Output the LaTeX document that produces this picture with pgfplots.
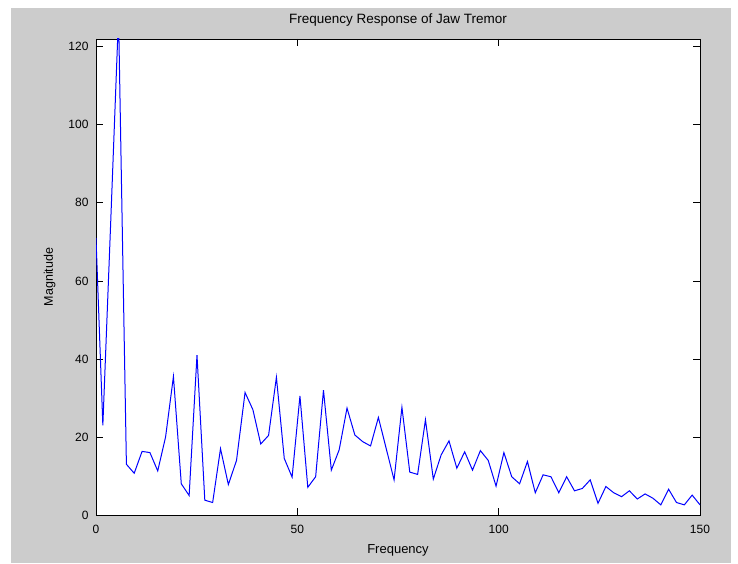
\documentclass[border=0pt]{standalone}
\usepackage{fontspec}
\setmainfont{Liberation Sans}
\usepackage{pgfplots}
\pgfplotsset{compat=1.18}
\definecolor{figgray}{RGB}{204,204,204}
\definecolor{mblue}{RGB}{0,0,255}
\begin{document}
\begin{tikzpicture}[x=1pt,y=1pt]
\fill[white] (0,0) rectangle (738,563);
\fill[figgray] (11,0) rectangle (731,555);
\begin{axis}[
  at={(96pt,48pt)}, anchor=south west,
  width=604pt, height=476pt, scale only axis,
  xmin=0, xmax=150, ymin=0, ymax=122,
  xtick={0,50,100,150}, ytick={0,20,40,60,80,100,120},
  axis background/.style={fill=white},
  axis line style={black, line width=0.8pt},
  tick style={black, line width=0.8pt},
  major tick length=7pt, tick align=inside,
  /pgf/number format/assume math mode=true,
  ticklabel style={font=\fontsize{12}{14}\selectfont},
  xticklabel style={anchor=base, yshift=-18pt},
  yticklabel style={anchor=east, xshift=-4pt},
  title={Frequency Response of Jaw Tremor},
  title style={at={(axis description cs:0.5,1)}, anchor=base, yshift=9pt, font=\fontsize{13.5}{15}\selectfont},
  xlabel={Frequency},
  xlabel style={at={(axis description cs:0.5,0)}, anchor=base, yshift=-38pt, font=\fontsize{13}{15}\selectfont},
  ylabel={Magnitude},
  ylabel style={at={(axis description cs:-0.0712,0.5)}, anchor=base, font=\fontsize{12.5}{15}\selectfont},
]
\addplot[mblue, line width=1pt, mark=none, sharp plot] coordinates {
(0,71) (1.70,23) (3.65,75) (5.60,128) (7.55,13) (9.49,10.7) (11.44,16.3) (13.39,16) (15.33,11.3) (17.28,20)
(19.23,35.5) (21.18,8) (23.13,5) (25.08,41) (27.02,3.8) (28.97,3.2) (30.92,17) (32.87,7.8) (34.9,14) (37.013,31.4)
(38.961,27) (40.909,18.2) (42.857,20.4) (44.805,35.3) (46.753,14.5) (48.701,9.7) (50.649,30.5) (52.597,7.1) (54.545,9.8) (56.494,32)
(58.442,11.5) (60.390,16.7) (62.338,27.4) (64.286,20.5) (66.234,18.8) (68.182,17.7) (70.130,25) (72.078,17) (74.026,9) (75.974,27.6)
(77.922,11) (79.870,10.4) (81.818,24.4) (83.766,9.2) (85.714,15.4) (87.662,19) (89.610,12) (91.558,16.2) (93.506,11.5) (95.455,16.5)
(97.403,14) (99.351,7.4) (101.299,16) (103.247,9.8) (105.195,8) (107.143,13.7) (109.091,5.7) (111.039,10.3) (112.987,9.8) (114.935,5.7)
(116.883,9.8) (118.831,6.2) (120.779,6.8) (122.727,9) (124.675,3) (126.623,7.3) (128.571,5.7) (130.519,4.7) (132.468,6.2) (134.416,4.1)
(136.364,5.4) (138.312,4.3) (140.260,2.6) (142.208,6.6) (144.156,3.2) (146.104,2.6) (148.052,5.1) (150,2.6)
};
\end{axis}
\end{tikzpicture}
\end{document}
